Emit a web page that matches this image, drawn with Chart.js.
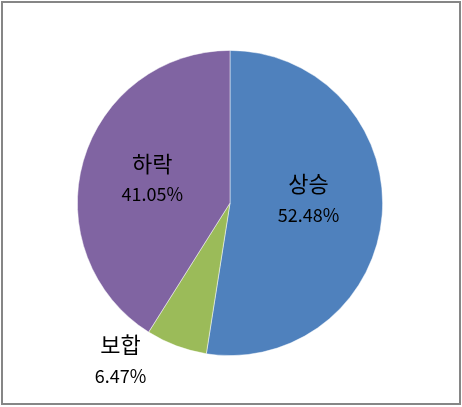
<!DOCTYPE html>
<html><head><meta charset="utf-8">
<script src="https://cdn.jsdelivr.net/npm/chart.js@4"></script>
<style>
html,body{margin:0;padding:0;background:#fff;}
#wrap{position:absolute;left:0;top:0;width:462px;height:407px;}
#frame{position:absolute;left:1px;top:1px;width:456px;height:400px;border:2px solid #868686;pointer-events:none;}
</style></head>
<body>
<div id="wrap"><canvas id="c" width="462" height="407"></canvas><div id="frame"></div></div>
<script>
const categories = ['상승', '보합', '하락'];
const values = [52.48, 6.47, 41.05];
const valueLabels = ['52.48%', '6.47%', '41.05%'];
const colors = ['#4F81BD', '#9BBB59', '#8064A2'];

const labelPlugin = {
  id: 'pieLabels',
  afterDatasetsDraw(chart) {
    const ctx = chart.ctx;
    const meta = chart.getDatasetMeta(0);
    // [radius fraction, dx, dy] per slice; outside label for the small slice
    const place = [[0.51, 1, -10], [0, -109.5, 157], [0.53, 0, -2]];
    meta.data.forEach((arc, i) => {
      const mid = (arc.startAngle + arc.endAngle) / 2;
      const r = arc.outerRadius * place[i][0];
      const x = arc.x + Math.cos(mid) * r + place[i][1];
      const y = arc.y + Math.sin(mid) * r + place[i][2];
      ctx.save();
      ctx.fillStyle = '#000';
      ctx.textAlign = 'center';
      ctx.textBaseline = 'middle';
      ctx.font = '22px "Noto Sans CJK KR"';
      ctx.fillText(categories[i], x, y - 15);
      ctx.font = '18px "Noto Sans CJK KR"';
      ctx.fillText(valueLabels[i], x, y + 16);
      ctx.restore();
    });
  }
};

new Chart(document.getElementById('c'), {
  type: 'pie',
  data: {
    labels: categories,
    datasets: [{
      data: values,
      backgroundColor: colors,
      borderColor: 'rgba(255,255,255,0.6)',
      borderWidth: 0.8
    }]
  },
  options: {
    responsive: false,
    animation: false,
    devicePixelRatio: 1,
    layout: { padding: { left: 77, right: 79, top: 50, bottom: 51 } },
    plugins: { legend: { display: false }, tooltip: { enabled: false } }
  },
  plugins: [labelPlugin]
});
</script>
</body></html>
